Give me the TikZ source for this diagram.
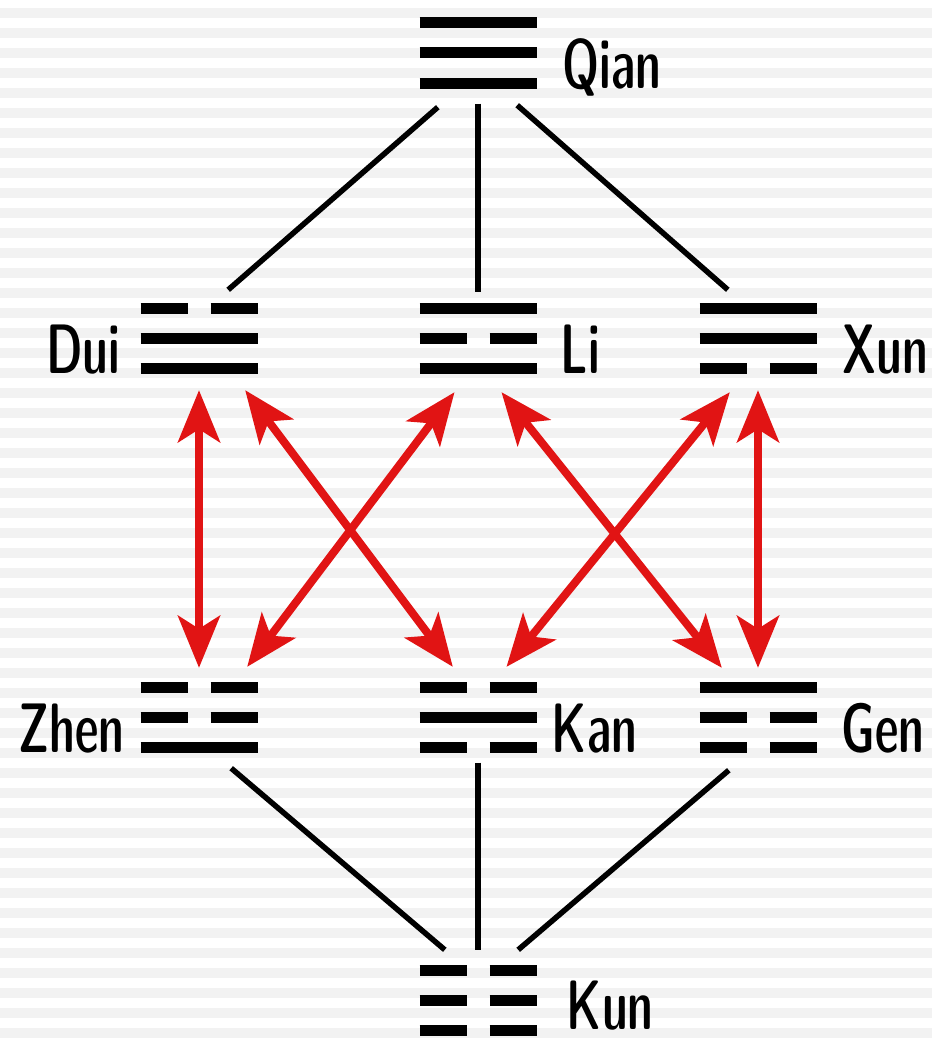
\documentclass[tikz,border=0pt]{standalone}
\usepackage{fontspec}
\newfontfamily\guafont{lmsansdemicond10-regular.otf}[FakeStretch=0.76]
\usetikzlibrary{positioning,arrows.meta,calc}
\definecolor{arrowred}{RGB}{225,20,20}
\definecolor{stripe}{RGB}{242,242,242}
\tikzset{
  yao/.style={line width=11pt},
  % one trigram, lines given top to bottom, 1 = whole, 0 = broken
  pics/trigram/.style n args={3}{code={
    \foreach \b [count=\i] in {#1,#2,#3}{
      \ifnum\b=1
        \draw[yao] (-58.5,{30*\i-60}) -- (58.5,{30*\i-60});
      \else
        \draw[yao] (-58.5,{30*\i-60}) -- (-11.5,{30*\i-60});
        \draw[yao] (11.5,{30*\i-60}) -- (58.5,{30*\i-60});
      \fi
    }
  }}
}

\begin{document}
\begin{tikzpicture}[x=1pt,y=-1pt,
  gua/.style={minimum width=117pt,minimum height=71pt,inner sep=0pt},
  lbl/.style={font=\guafont\fontsize{70}{70}\selectfont,inner sep=0pt},
  joinline/.style={line width=5.5pt},
  swaparrow/.style={draw=arrowred,line width=8pt,
    {Stealth[length=52pt,width=42pt,inset=13pt]}-{Stealth[length=52pt,width=42pt,inset=13pt]}}]
  \useasboundingbox (0,0) rectangle (932,1041);
  % striped paper
  \fill[white] (0,0) rectangle (932,1041);
  \foreach \k in {0,...,51}
    \fill[stripe] (0,{8+20*\k}) rectangle (932,{18+20*\k});

  % the eight trigrams
  \node[gua] (qian) at (478,53) {};
  \node[gua] (dui) at (199,338) {};
  \node[gua] (li) at (478,338) {};
  \node[gua] (xun) at (758,338) {};
  \node[gua] (zhen) at (199,717) {};
  \node[gua] (kan) at (478,717) {};
  \node[gua] (gen) at (758,717) {};
  \node[gua] (kun) at (478,1000) {};
  \pic at (qian) {trigram={1}{1}{1}};
  \pic at (dui) {trigram={0}{1}{1}};
  \pic at (li) {trigram={1}{0}{1}};
  \pic at (xun) {trigram={1}{1}{0}};
  \pic at (zhen) {trigram={0}{0}{1}};
  \pic at (kan) {trigram={0}{1}{0}};
  \pic at (gen) {trigram={1}{0}{0}};
  \pic at (kun) {trigram={0}{0}{0}};

  % names
  \node[lbl,right=26pt of qian.south east,anchor=base west] (qianname) {Qian};
  \node[lbl,left=20pt of dui.south west,anchor=base east] (duiname) {Dui};
  \node[lbl,right=24pt of li.south east,anchor=base west] (liname) {Li};
  \node[lbl,right=26pt of xun.south east,anchor=base west] (xunname) {Xun};
  \node[lbl,left=16pt of zhen.south west,anchor=base east] (zhenname) {Zhen};
  \node[lbl,right=15pt of kan.south east,anchor=base west] (kanname) {Kan};
  \node[lbl,right=25pt of gen.south east,anchor=base west] (genname) {Gen};
  \node[lbl,right=30pt of kun.south east,anchor=base west,yshift=6pt] (kunname) {Kun};

  % black lines to Qian and Kun
  \draw[joinline] ($(qian.south west)+(18.5,18.5)$) -- ($(dui.north east)+(-29.5,-12.5)$);
  \draw[joinline] ($(qian.south)+(0,15)$) -- ($(li.north)+(0,-10)$);
  \draw[joinline] ($(qian.south east)+(-19.5,16.5)$) -- ($(xun.north west)+(28.5,-12.5)$);
  \draw[joinline] ($(zhen.south east)+(-26.5,15.5)$) -- ($(kun.north west)+(25.5,-14.5)$);
  \draw[joinline] ($(kan.south)+(0,10)$) -- ($(kun.north)+(0,-14.5)$);
  \draw[joinline] ($(gen.south west)+(29.5,17.5)$) -- ($(kun.north east)+(-18.5,-14.5)$);

  % red exchanges
  \draw[swaparrow] ($(dui.south)+(0,16.5)$) -- ($(zhen.north)+(0,-13.5)$);
  \draw[swaparrow] ($(dui.south east)+(-12.5,16.5)$) -- ($(kan.north west)+(33.5,-14.5)$);
  \draw[swaparrow] ($(li.south)+(-23.5,18.5)$) -- ($(zhen.north east)+(-10.5,-14.5)$);
  \draw[swaparrow] ($(li.south)+(23.5,18.5)$) -- ($(gen.north west)+(22.5,-13.5)$);
  \draw[swaparrow] ($(xun.south west)+(30.5,18.5)$) -- ($(kan.north)+(28.5,-14.5)$);
  \draw[swaparrow] ($(xun.south)+(0,16.5)$) -- ($(gen.north)+(0,-13.5)$);
\end{tikzpicture}
\end{document}
